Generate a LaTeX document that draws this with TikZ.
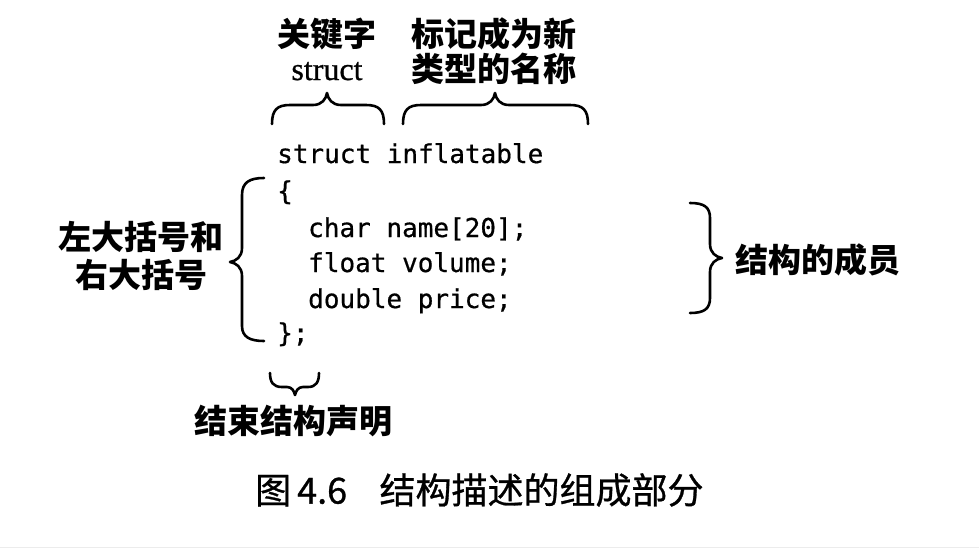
\documentclass[tikz,border=0pt]{standalone}
\usepackage{fontspec}
\setmainfont{Liberation Serif}
\setmonofont[FakeBold=0.6]{DejaVu Sans Mono}
\newfontfamily\cjk{Noto Sans CJK SC}
\newfontfamily\cjkcap[FakeBold=0.8]{Noto Sans CJK SC}
\newfontfamily\serifb[FakeBold=0.8]{Liberation Serif}
\begin{document}
\begin{tikzpicture}[x=1pt,y=-1pt,
  lab/.style={font=\cjk\bfseries\fontsize{33}{38}\selectfont, inner sep=0pt},
  code/.style={font=\ttfamily\fontsize{26}{30}\selectfont, anchor=base west, inner sep=0pt},
  brace/.style={line width=2.6pt, line cap=round, line join=round}]
\useasboundingbox (0,0) rectangle (979,551);
\fill[white] (0,0) rectangle (979,551);
% top labels
\node[lab] (kw) at (327,34) {关键字};
\node[font=\serifb\fontsize{32}{36}\selectfont, inner sep=0pt, anchor=base] (kws) at (327,80) {struct};
\node[lab] (tn1) at (494,34) {标记成为新};
\node[lab] (tn2) at (494,69) {类型的名称};
% code
\node[code] (c1) at (277,163) {struct inflatable};
\node[code] (c2) at (277,200) {\{};
\node[code] (c3) at (308,237) {char name[20];};
\node[code] (c4) at (308,272) {float volume;};
\node[code] (c5) at (308,308) {double price;};
\node[code] (c6) at (277,342) {\};};
% side labels
\node[lab] (lb1) at (141,237) {左大括号和};
\node[lab] (lb2) at (141,275) {右大括号};
\node[lab, anchor=west] (mem) at (735,260) {结构的成员};
\node[lab] (endl) at (293,421) {结束结构声明};
\node[font=\cjkcap\fontsize{36}{40}\selectfont, inner sep=0pt, anchor=west] (cap) at (255,490) {图\,4.6\hspace{0.9em}结构描述的组成部分};
% braces
\draw[brace] (272,124) .. controls (272,110) and (277,105) .. (290,105) -- (313,105)
  .. controls (322,105) and (326,99) .. (327,93) .. controls (328,99) and (332,105) .. (341,105)
  -- (366,105) .. controls (379,105) and (384,110) .. (384,124);
\draw[brace] (403,124) .. controls (403,110) and (408,105) .. (421,105) -- (481,105)
  .. controls (490,105) and (494,99) .. (495,93) .. controls (496,99) and (500,105) .. (509,105)
  -- (570,105) .. controls (583,105) and (588,110) .. (588,124);
\draw[brace] (264,178) .. controls (250,178) and (242,182) .. (242,195) -- (242,248)
  .. controls (242,257) and (236,261) .. (230,262) .. controls (236,263) and (242,267) .. (242,276)
  -- (242,326) .. controls (242,337) and (250,341) .. (264,341);
\draw[brace] (690,203) .. controls (704,203) and (710,207) .. (710,218) -- (710,244)
  .. controls (710,253) and (716,257) .. (722,258) .. controls (716,259) and (710,263) .. (710,272)
  -- (710,298) .. controls (710,309) and (704,313) .. (690,313);
\draw[brace] (270,373) .. controls (270,382) and (273,387) .. (282,387) -- (287,387)
  .. controls (292,387) and (294,391) .. (295,395) .. controls (296,391) and (298,387) .. (303,387)
  -- (308,387) .. controls (316,387) and (319,382) .. (319,373);
\draw[gray!15, line width=1pt] (0,547) -- (979,547);
\end{tikzpicture}
\end{document}
